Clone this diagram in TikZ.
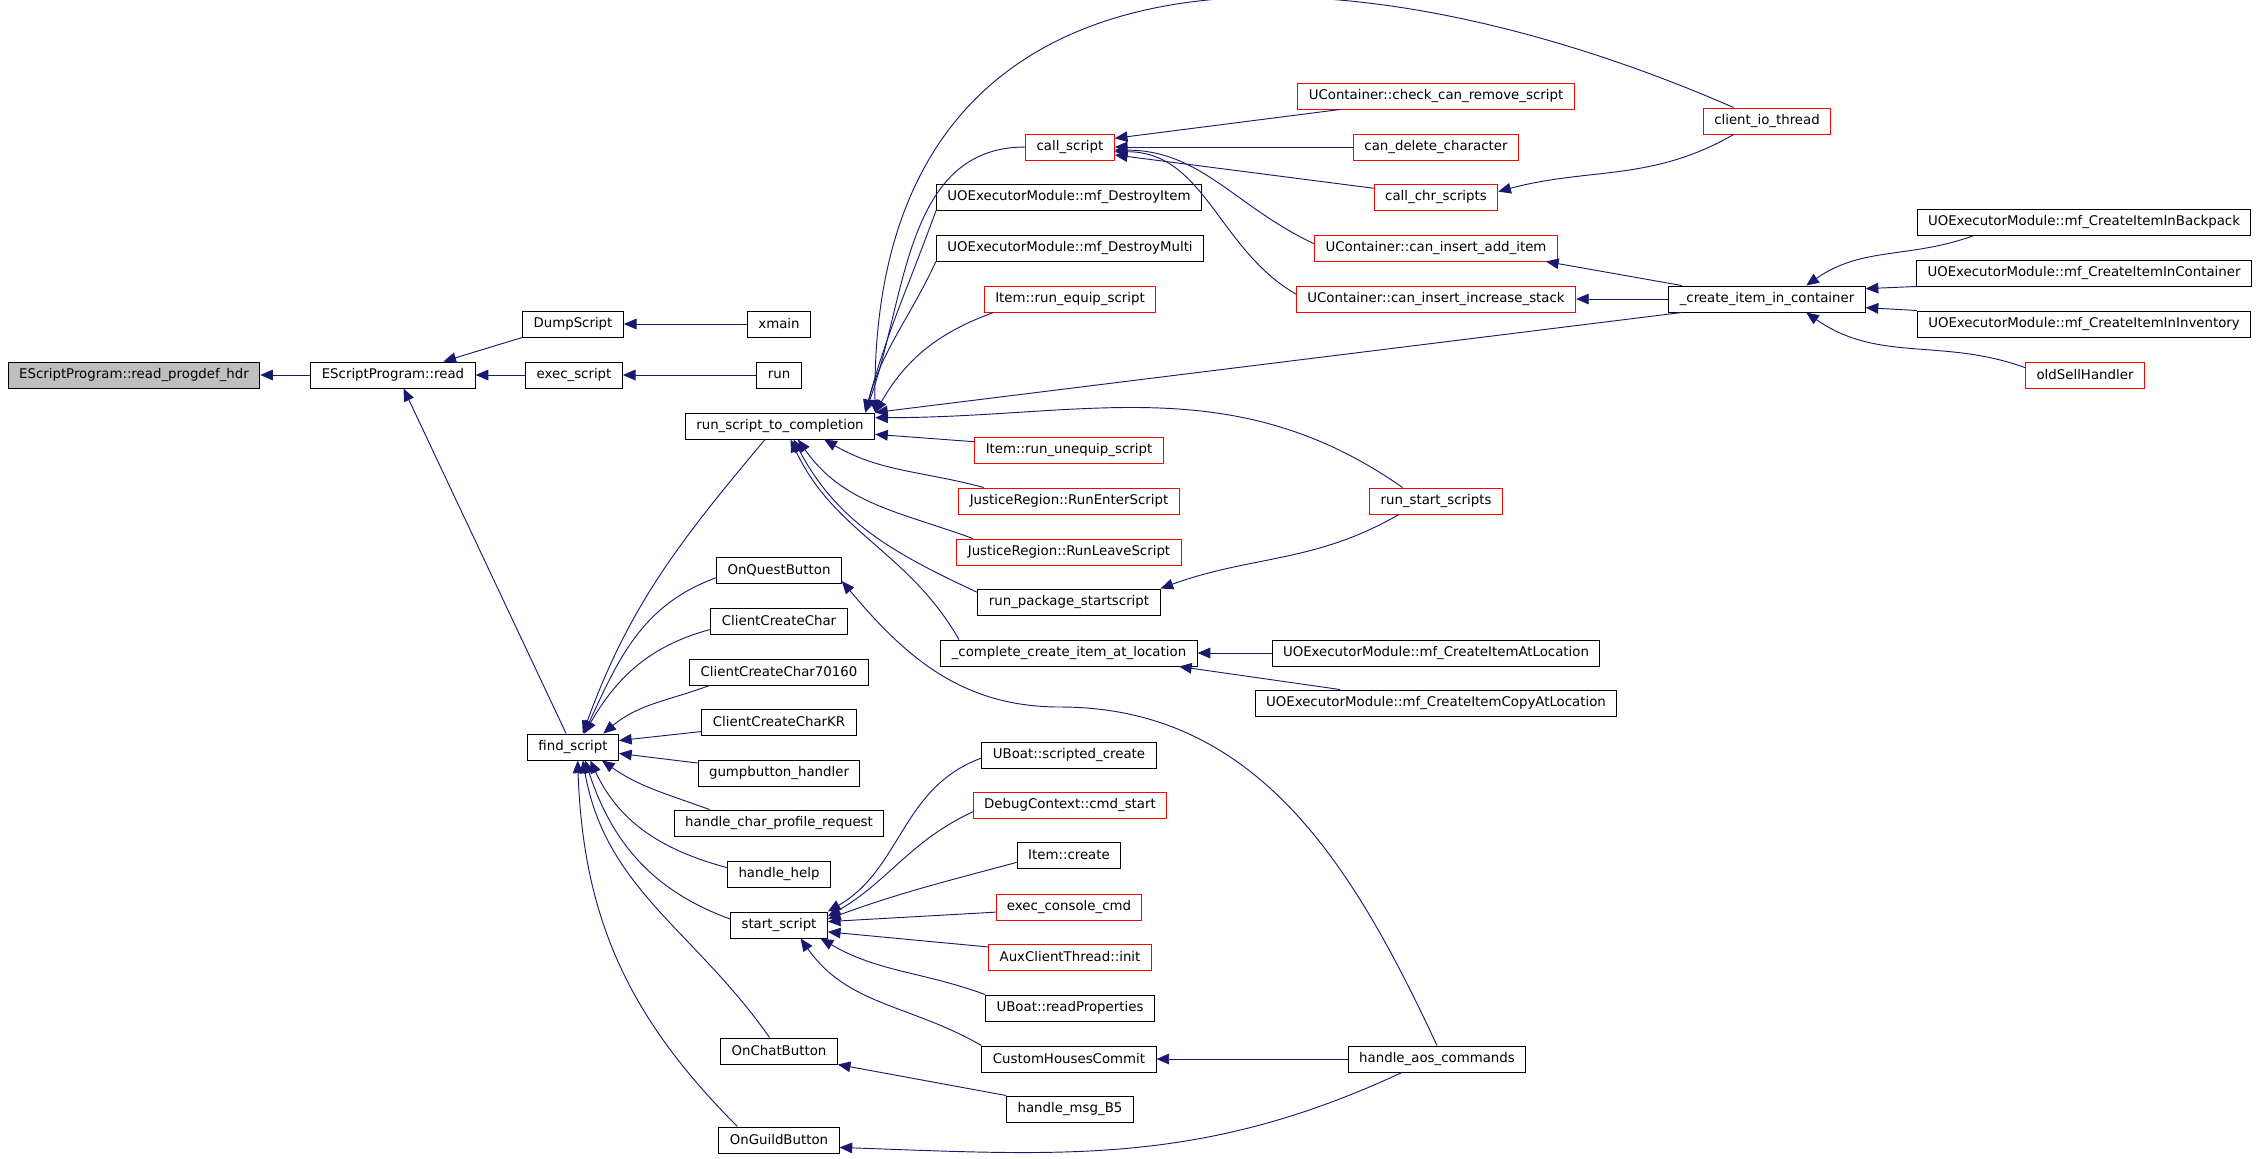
\documentclass[tikz,border=0pt]{standalone}
\usepackage{fontspec}
\setmainfont{DejaVu Sans}
\usetikzlibrary{arrows.meta}
\definecolor{edgeblue}{HTML}{191970}
\definecolor{rootgray}{HTML}{BFBFBF}
\tikzset{
  fn/.style={draw=black, line width=0.75pt, inner xsep=8.2pt, inner ysep=0pt,
    minimum height=19.5pt, font=\fontsize{10pt}{12pt}\selectfont},
  fnred/.style={fn, draw=red},
  call/.style={-{Triangle[length=9.5pt,width=8pt]}, draw=edgeblue, line width=0.7pt},
}
\begin{document}
\begin{tikzpicture}[x=0.75pt, y=0.75pt]
\useasboundingbox (0,0) rectangle (2259,-1158);

\node (hdr) at (134, -375) [fn, fill=rootgray] {EScriptProgram::read\_progdef\_hdr};
\node (read) at (393, -375) [fn] {EScriptProgram::read};
\node (dump) at (573, -324) [fn] {DumpScript};
\node (execs) at (574, -375) [fn] {exec\_script};
\node (findscr) at (573, -747) [fn] {find\_script};
\node (xmain) at (779, -324) [fn] {xmain};
\node (run) at (779, -375) [fn] {run};
\node (rstc) at (780, -426) [fn] {run\_script\_to\_completion};
\node (onquest) at (779, -570) [fn] {OnQuestButton};
\node (ccc) at (779, -621) [fn] {ClientCreateChar};
\node (ccc70) at (779, -672) [fn] {ClientCreateChar70160};
\node (ccckr) at (779, -722) [fn] {ClientCreateCharKR};
\node (gump) at (779, -773) [fn] {gumpbutton\_handler};
\node (hcpr) at (779, -823) [fn] {handle\_char\_profile\_request};
\node (hhelp) at (779, -874) [fn] {handle\_help};
\node (startscr) at (779, -925) [fn] {start\_script};
\node (onchat) at (779, -1051) [fn] {OnChatButton};
\node (onguild) at (779, -1140) [fn] {OnGuildButton};

\node (callscr) at (1070, -147) [fnred] {call\_script};
\node (destroyitem) at (1069, -197) [fn] {UOExecutorModule::mf\_DestroyItem};
\node (destroymulti) at (1070, -248) [fn] {UOExecutorModule::mf\_DestroyMulti};
\node (equip) at (1070, -299) [fnred] {Item::run\_equip\_script};
\node (unequip) at (1069, -450) [fnred] {Item::run\_unequip\_script};
\node (enter) at (1069, -501) [fnred] {JusticeRegion::RunEnterScript};
\node (leave) at (1069, -552) [fnred] {JusticeRegion::RunLeaveScript};
\node (pkgstart) at (1069, -602) [fn] {run\_package\_startscript};
\node (complcreate) at (1069, -653) [fn] {\_complete\_create\_item\_at\_location};
\node (scripted) at (1069, -755) [fn] {UBoat::scripted\_create};
\node (cmdstart) at (1070, -805) [fnred] {DebugContext::cmd\_start};
\node (itemcreate) at (1069, -855) [fn] {Item::create};
\node (execcons) at (1069, -907) [fnred] {exec\_console\_cmd};
\node (auxinit) at (1070, -957) [fnred] {AuxClientThread::init};
\node (readprops) at (1070, -1008) [fn] {UBoat::readProperties};
\node (customhc) at (1069, -1059) [fn] {CustomHousesCommit};
\node (msgb5) at (1070, -1109) [fn] {handle\_msg\_B5};

\node (checkrm) at (1436, -96) [fnred] {UContainer::check\_can\_remove\_script};
\node (candel) at (1436, -147) [fnred] {can\_delete\_character};
\node (callchr) at (1436, -197) [fnred] {call\_chr\_scripts};
\node (addit) at (1436, -248) [fnred] {UContainer::can\_insert\_add\_item};
\node (incstack) at (1436, -299) [fnred] {UContainer::can\_insert\_increase\_stack};
\node (runstart) at (1436, -501) [fnred] {run\_start\_scripts};
\node (atloc) at (1436, -653) [fn] {UOExecutorModule::mf\_CreateItemAtLocation};
\node (copyatloc) at (1436, -703) [fn] {UOExecutorModule::mf\_CreateItemCopyAtLocation};
\node (aos) at (1437, -1059) [fn] {handle\_aos\_commands};

\node (clientio) at (1767, -121) [fnred] {client\_io\_thread};
\node (cicont) at (1767, -299) [fn] {\_create\_item\_in\_container};
\node (backpack) at (2084, -222) [fn] {UOExecutorModule::mf\_CreateItemInBackpack};
\node (incontainer) at (2084, -273) [fn] {UOExecutorModule::mf\_CreateItemInContainer};
\node (ininventory) at (2084, -324) [fn] {UOExecutorModule::mf\_CreateItemInInventory};
\node (oldsell) at (2085, -375) [fnred] {oldSellHandler};

\draw[call] (read) -- (hdr);
\draw[call] (dump.south west) -- (read.15);
\draw[call] (execs) -- (read);
\draw[call] (findscr.117) -- (read.-52);
\draw[call] (xmain) -- (dump);
\draw[call] (run) -- (execs);

\draw[call] (rstc.-138) to [out=-130, in=70] (findscr.54);
\draw[call] (onquest.187) to [out=200, in=65] (findscr.51);
\draw[call] (ccc.187) to [out=195, in=60] (findscr.50);
\draw[call] (ccc70.191) to [out=200, in=40] (findscr.24);
\draw[call] (ccckr.187) -- (findscr.8);
\draw[call] (gump.173) -- (findscr.-8);
\draw[call] (hcpr.169) to [out=160, in=-35] (findscr.-25);
\draw[call] (hhelp.173) to [out=165, in=-65] (findscr.-38);
\draw[call] (startscr.173) to [out=160, in=-72] (findscr.-48);
\draw[call] (onchat.125) to [out=125, in=-80] (findscr.-54);
\draw[call] (onguild.162) to [out=135, in=-88] (findscr.-71);

\draw[call] (callscr.west) to [out=180, in=70] (rstc.9);
\draw[call] (destroyitem.south west) to [out=-110, in=75] (rstc.9);
\draw[call] (destroymulti.south west) to [out=-115, in=75] (rstc.9);
\draw[call] (equip.190) to [out=200, in=60] (rstc.8);
\draw[call] (clientio.158) .. controls (1350, 60) and (870, 90) .. (rstc.north east);
\draw[call] (cicont.189) -- (rstc.north east);
\draw[call] (runstart.158) to [out=145, in=0] (rstc.5);
\draw[call] (unequip.175) -- (rstc.-5);
\draw[call] (enter.171) to [out=165, in=-30] (rstc.-17);
\draw[call] (leave.172) to [out=160, in=-55] (rstc.-37);
\draw[call] (pkgstart.174) to [out=155, in=-62] (rstc.-45);
\draw[call] (complcreate.173) to [out=120, in=-65] (rstc.-52);

\draw[call] (checkrm.188) -- (callscr.11);
\draw[call] (candel) -- (callscr);
\draw[call] (callchr.172) -- (callscr.-10);
\draw[call] (addit.178) to [out=155, in=0] (callscr.-4);
\draw[call] (incstack.178) to [out=150, in=0] (callscr.-6);
\draw[call] (clientio.202) to [out=210, in=15] (callchr.5);
\draw[call] (cicont.171) -- (addit.-7);
\draw[call] (cicont) -- (incstack);
\draw[call] (backpack.187) to [out=200, in=35] (cicont.19);
\draw[call] (incontainer.south west) -- (cicont.6);
\draw[call] (ininventory.north west) -- (cicont.-5);
\draw[call] (oldsell.173) to [out=160, in=-35] (cicont.-19);

\draw[call] (runstart.200) to [out=210, in=20] (pkgstart.north east);
\draw[call] (atloc) -- (complcreate);
\draw[call] (copyatloc.172) -- (complcreate.-7);

\draw[call] (aos.north) to [out=115, in=0] (1060, -707) to [out=180, in=-50] (onquest.-10);
\draw[call] (aos.201) to [out=205, in=-2] (onguild.-7);
\draw[call] (aos) -- (customhc);
\draw[call] (msgb5.north west) -- (onchat.south east);

\draw[call] (scripted.182) to [out=200, in=30] (startscr.north east);
\draw[call] (cmdstart.184) to [out=205, in=30] (startscr.10);
\draw[call] (itemcreate.188) to [out=195, in=20] (startscr.7);
\draw[call] (execcons.184) -- (startscr.4);
\draw[call] (auxinit.173) -- (startscr.-8);
\draw[call] (readprops.north west) to [out=160, in=-30] (startscr.-18);
\draw[call] (customhc.north west) to [out=150, in=-55] (startscr.-32);
\end{tikzpicture}
\end{document}
